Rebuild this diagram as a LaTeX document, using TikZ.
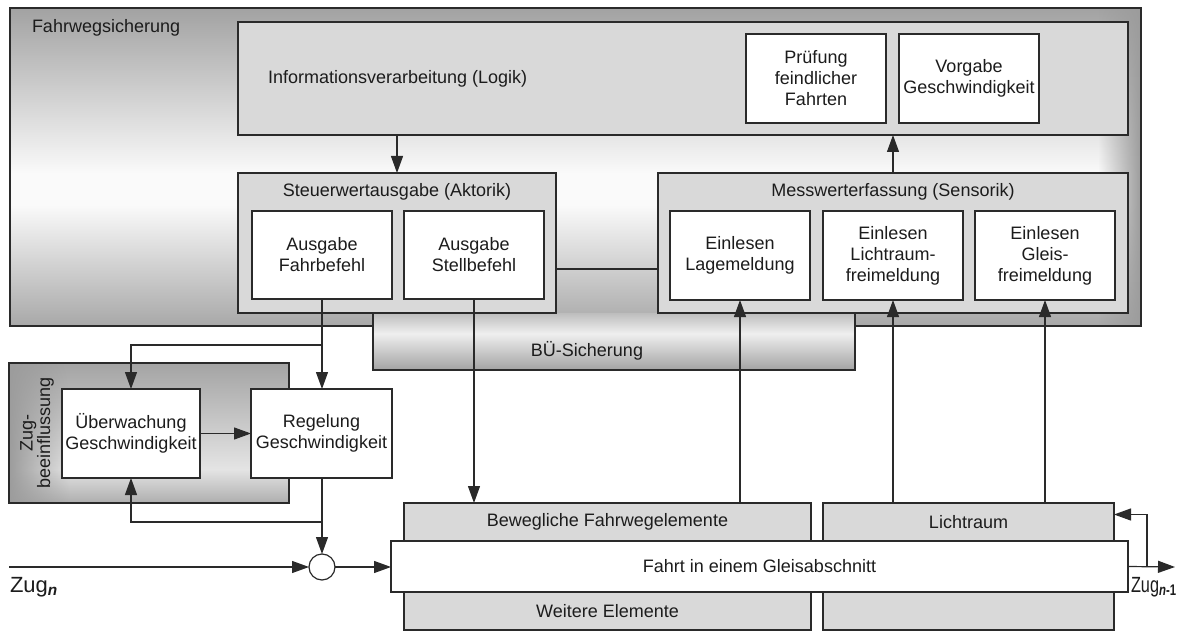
\documentclass[tikz,border=0pt]{standalone}
\usepackage{fontspec}
\setmainfont{Liberation Sans}
\usetikzlibrary{arrows.meta,fadings}

\definecolor{linecol}{HTML}{2A2A2A}
\definecolor{txtcol}{HTML}{1C1C1C}
\definecolor{boxgray}{HTML}{D9D9D9}
\definecolor{fwsTop}{HTML}{A2A2A2}
\definecolor{fwsLight}{HTML}{FAFAFA}
\definecolor{fwsBot}{HTML}{A8A8A8}
\definecolor{bueTop}{HTML}{BDBDBD}
\definecolor{bueLight}{HTML}{EFEFEF}
\definecolor{bueBot}{HTML}{A3A3A3}
\definecolor{zbTop}{HTML}{A4A4A4}
\definecolor{zbLight}{HTML}{E4E4E4}
\definecolor{zbBot}{HTML}{AEAEAE}
\definecolor{edgeGray}{HTML}{9C9C9C}

% vertical shadings (the path box maps onto 25bp..75bp)
\pgfdeclareverticalshading{fwsshade}{100bp}{color(0bp)=(fwsBot); color(25bp)=(fwsBot); color(44bp)=(fwsLight); color(49bp)=(fwsLight); color(75bp)=(fwsTop); color(100bp)=(fwsTop)}
\pgfdeclareverticalshading{bueshade}{100bp}{color(0bp)=(bueBot); color(25bp)=(bueBot); color(57bp)=(bueLight); color(75bp)=(bueTop); color(100bp)=(bueTop)}
\pgfdeclareverticalshading{zbshade}{100bp}{color(0bp)=(zbBot); color(25bp)=(zbBot); color(37bp)=(zbLight); color(75bp)=(zbTop); color(100bp)=(zbTop)}

\begin{document}
\begin{tikzpicture}[x=1pt,y=-1pt,
  every node/.style={font=\fontsize{18}{21}\selectfont, text=txtcol, inner sep=0pt, outer sep=0pt},
  box/.style={draw=linecol, line width=1.3pt, fill=white, align=center},
  graybox/.style={draw=linecol, line width=1.3pt, fill=boxgray},
  plain/.style={draw=linecol, line width=1.2pt},
  arr/.style={plain, -{Triangle[length=17pt,width=12pt]}},
  zuglabel/.style={font=\fontsize{22}{24}\selectfont, anchor=base west}]

\useasboundingbox (0,0) rectangle (1199,631);

% ---- Fahrwegsicherung (outer frame) ----
\node[shade, shading=fwsshade, minimum width=1131pt, minimum height=318pt] (fws) at (575.5,167) {};
\fill[edgeGray, path fading=west] (1098,8) rectangle (1141,326);
\draw[plain, line width=1.3pt] (fws.south west) rectangle (fws.north east);
\node[anchor=base west] (fwslabel) at (32,33) {Fahrwegsicherung};

% ---- BÜ-Sicherung (attached below the frame) ----
\node[shade, shading=bueshade, minimum width=482pt, minimum height=57pt] (bue) at (614,341.5) {};
\draw[plain, line width=1.3pt] (bue.north west) -- (bue.south west) -- (bue.south east) -- (bue.north east);
\node (buelabel) at (587,351) {BÜ-Sicherung};

% ---- Informationsverarbeitung ----
\node[graybox, minimum width=890pt, minimum height=113pt] (info) at (683,78.5) {};
\node[anchor=west] (infolabel) at (268,79) {Informationsverarbeitung (Logik)};
\node[box, minimum width=140pt, minimum height=89pt] (pruef) at (816,78.5) {Prüfung\\feindlicher\\Fahrten};
\node[box, minimum width=140pt, minimum height=89pt] (vorg) at (969,78.5) {Vorgabe\\Geschwindigkeit};

% ---- Steuerwertausgabe ----
\node[graybox, minimum width=318pt, minimum height=140pt] (stw) at (397,243) {};
\node (stwlabel) at (397,192) {Steuerwertausgabe (Aktorik)};
\node[box, minimum width=140pt, minimum height=88pt] (fahrb) at (322,255) {Ausgabe\\Fahrbefehl};
\node[box, minimum width=140pt, minimum height=88pt] (stellb) at (474,255) {Ausgabe\\Stellbefehl};

% ---- Messwerterfassung ----
\node[graybox, minimum width=470pt, minimum height=140pt] (mwe) at (893,243) {};
\node (mwelabel) at (893,192) {Messwerterfassung (Sensorik)};
\node[box, minimum width=140pt, minimum height=89pt] (lage) at (740,255.5) {Einlesen\\Lagemeldung};
\node[box, minimum width=140pt, minimum height=89pt] (lfrei) at (893,255.5) {Einlesen\\Lichtraum-\\freimeldung};
\node[box, minimum width=140pt, minimum height=89pt] (gfrei) at (1045,255.5) {Einlesen\\Gleis-\\freimeldung};

% ---- Zugbeeinflussung ----
\node[shade, shading=zbshade, minimum width=280pt, minimum height=140pt] (zb) at (149,433) {};
\fill[edgeGray, path fading=east] (9,363) rectangle (70,503);
\draw[plain, line width=1.3pt] (zb.south west) rectangle (zb.north east);
\node[rotate=90, align=center, font=\fontsize{18}{17.5}\selectfont] (zblabel) at (37,433) {Zug-\\beeinflussung};
\node[box, minimum width=138pt, minimum height=89pt] (ueb) at (131,433.5) {Überwachung\\Geschwindigkeit};
\node[box, minimum width=141pt, minimum height=89pt] (reg) at (321.5,433.5) {Regelung\\Geschwindigkeit};

% ---- track section ----
\node[graybox, minimum width=407pt, minimum height=127pt] (bew) at (607.5,566.5) {};
\node (bewtop) at (607.5,522) {Bewegliche Fahrwegelemente};
\node (bewbot) at (607.5,611) {Weitere Elemente};
\node[graybox, minimum width=291pt, minimum height=127pt] (licht) at (968.5,566.5) {};
\node (lichtlabel) at (968.5,522) {Lichtraum};
\node[box, minimum width=737pt, minimum height=51pt] (fahrt) at (759.5,566.5) {Fahrt in einem Gleisabschnitt};

\node[draw=linecol, line width=1.2pt, fill=white, circle, minimum size=26pt] (sum) at (322,567) {};

% ---- free ends and junctions ----
\coordinate (zin) at (9,567);
\coordinate (zout) at (1175,567);
\coordinate (jtop) at (322,345);
\coordinate (jbot) at (322,522);
\coordinate (jout) at (1147,567);

\node[zuglabel] (zugn) at (10,592) {Zug\textsubscript{\textbf{\textit{n}}}};
\node[zuglabel] (zugn1) at (1131,592) {\scalebox{0.74}[1]{Zug\textsubscript{\textbf{\textit{n}-1}}}};

% ---- connectors ----
\draw[arr] (stw.north |- info.south) -- (stw.north);
\draw[arr] (mwe.north) -- (mwe.north |- info.south);
\draw[plain] ([yshift=-26pt]stw.east) -- ([yshift=-26pt]mwe.west);

\draw[arr] (fahrb.south) -- (fahrb.south |- reg.north);
\draw[arr] (jtop) -| (ueb.north);
\draw[arr] (ueb.east) -- (ueb.east -| reg.west);
\draw[arr] (reg.south -| sum.north) -- (sum.north);
\draw[arr] (jbot) -| (ueb.south);

\draw[arr] (zin) -- (sum.west);
\draw[arr] (sum.east) -- (sum.east -| fahrt.west);

\draw[arr] (stellb.south) -- (stellb.south |- bew.north);
\draw[arr] (lage.south |- bew.north) -- (lage.south);
\draw[arr] (lfrei.south |- licht.north) -- (lfrei.south);
\draw[arr] (gfrei.south |- licht.north) -- (gfrei.south);

\draw[arr] (fahrt.east) -- (zout);
\draw[arr] (jout) |- ([yshift=52pt]licht.east);
\end{tikzpicture}
\end{document}
